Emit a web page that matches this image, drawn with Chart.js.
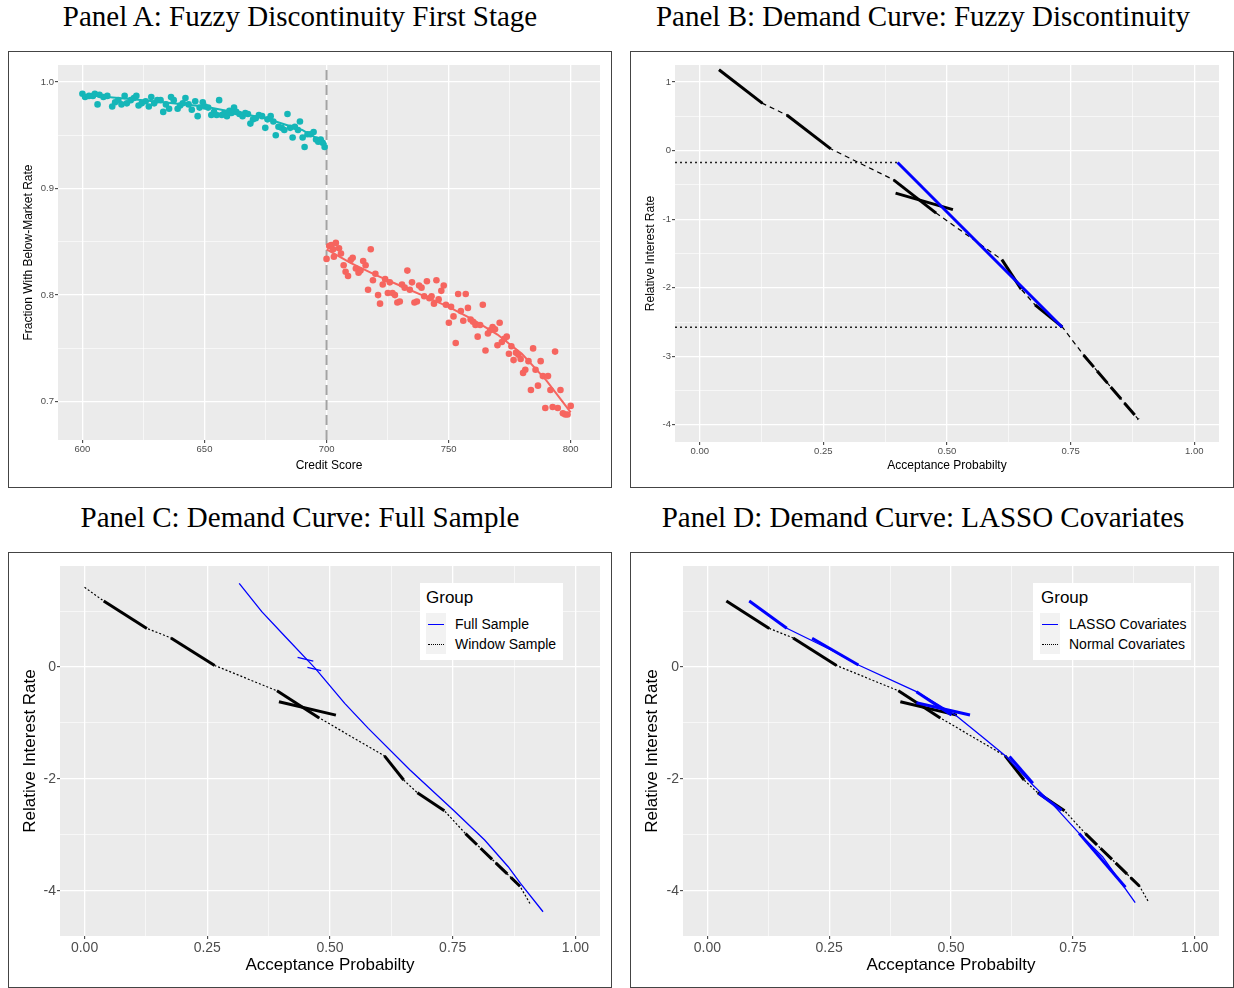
<!DOCTYPE html>
<html><head><meta charset="utf-8">
<script src="https://cdn.jsdelivr.net/npm/chart.js@4.4.1/dist/chart.umd.min.js"></script>
<style>
body{margin:0;background:#fff;width:1234px;height:988px;position:relative;overflow:hidden;font-family:"Liberation Sans",Arial,sans-serif;}
.box{position:absolute;border:1px solid #444;box-sizing:border-box;}
.box canvas{position:absolute;left:0;top:0;}
.title{position:absolute;font-family:"Liberation Serif",serif;font-size:29px;line-height:29px;white-space:nowrap;transform:translateX(-50%);color:#000;}
.legend{position:absolute;background:#fff;color:#000;}
.legend .lt{position:absolute;font-size:17px;line-height:17px;}
.legend .sw{position:absolute;background:#F2F2F2;}
.legend .ln{position:absolute;height:0;}
.legend .lab{position:absolute;font-size:14px;line-height:14px;white-space:nowrap;}
</style></head>
<body>
<div class="title" style="left:300px;top:2px">Panel A: Fuzzy Discontinuity First Stage</div>
<div class="title" style="left:923px;top:2px">Panel B: Demand Curve: Fuzzy Discontinuity</div>
<div class="title" style="left:300px;top:503px">Panel C: Demand Curve: Full Sample</div>
<div class="title" style="left:923px;top:503px">Panel D: Demand Curve: LASSO Covariates</div>

<div class="box" style="left:8px;top:51px;width:604px;height:437px"><canvas id="cA" width="602" height="435"></canvas></div>
<div class="box" style="left:630px;top:51px;width:604px;height:437px"><canvas id="cB" width="602" height="435"></canvas></div>
<div class="box" style="left:8px;top:552px;width:604px;height:436px"><canvas id="cC" width="602" height="434"></canvas>
  <div class="legend" style="left:411px;top:30px;width:143px;height:77px">
    <div class="lt" style="left:6px;top:6px">Group</div>
    <div class="sw" style="left:6px;top:30px;width:20px;height:41px"></div>
    <div class="ln" style="left:8px;top:41px;width:16px;border-top:1.5px solid #0000FF"></div>
    <div class="ln" style="left:8px;top:61px;width:16px;border-top:1.5px dotted #000"></div>
    <div class="lab" style="left:35px;top:34px">Full Sample</div>
    <div class="lab" style="left:35px;top:54px">Window Sample</div>
  </div>
</div>
<div class="box" style="left:630px;top:552px;width:604px;height:436px"><canvas id="cD" width="602" height="434"></canvas>
  <div class="legend" style="left:402px;top:30px;width:158px;height:77px">
    <div class="lt" style="left:8px;top:6px">Group</div>
    <div class="sw" style="left:7px;top:30px;width:20px;height:41px"></div>
    <div class="ln" style="left:9px;top:41px;width:16px;border-top:1.5px solid #0000FF"></div>
    <div class="ln" style="left:9px;top:61px;width:16px;border-top:1.5px dotted #000"></div>
    <div class="lab" style="left:36px;top:34px">LASSO Covariates</div>
    <div class="lab" style="left:36px;top:54px">Normal Covariates</div>
  </div>
</div>

<script>
// ---------------- DATA ----------------
// Panel A: binned credit scores and fraction with below-market rate
const leftScores = [600,601.1,602.7,604.3,605.1,606.2,607,608.6,610.2,612.2,
  613.4,614.7,616,617.3,618.2,619.8,621.1,622.1,623,624.3,
  625.9,627.2,628.2,629.4,630.7,632,633.1,634.2,635.5,636.3,
  637.4,639,640,641.1,642.2,643.5,644.8,646.2,647.2,648,
  649.3,650.2,651.5,652.8,653.9,655,656,657.1,658.2,659.2,
  660.2,661.1,662.1,663,664.3,665.6,666.7,667.8,668.8,669.9,
  671,672.3,673.6,674.9,675.8,677.1,678.2,679.2,680.3,681.6,
  682.7,684,685.1,686.1,687,688.3,689.1,690.2,691,692.2,
  693.4,694.7,695.7,696.6,697.6,698.4,699.2];
const leftShares = [0.989,0.986,0.987,0.987,0.989,0.979,0.988,0.986,0.987,0.977,
  0.981,0.983,0.979,0.987,0.980,0.983,0.985,0.987,0.978,0.980,
  0.982,0.977,0.986,0.980,0.983,0.983,0.972,0.979,0.975,0.986,
  0.983,0.975,0.978,0.980,0.985,0.979,0.974,0.982,0.968,0.976,
  0.981,0.977,0.976,0.969,0.972,0.969,0.983,0.969,0.971,0.968,
  0.973,0.971,0.976,0.972,0.970,0.968,0.971,0.970,0.961,0.965,
  0.966,0.969,0.968,0.957,0.965,0.968,0.963,0.950,0.958,0.957,
  0.955,0.970,0.957,0.948,0.958,0.955,0.963,0.948,0.939,0.951,
  0.951,0.953,0.946,0.944,0.946,0.943,0.939];
const rightScores = [700,701.1,701.9,702.7,703.8,703,705.1,705.9,707,707.8,
  708.8,709.9,710.7,712,713.1,713.9,715,716,717,718.1,
  719,720,721.1,721.9,723,724,725.1,725.9,727,728,
  729,730,730.9,732,733.1,734.1,735,736,737,737.9,
  738.9,740,741.1,742.1,743,744,745,745.9,747,748,
  748.9,750.1,751,752,752.9,753.9,755,756,757,757.9,
  759,760,761,761.9,762.9,764,765.1,766.1,767,768,
  769,770,770.9,771.8,772.8,773.8,774.7,775.7,776.6,777.6,
  778.6,779.5,780.5,781.4,782.7,783.7,784.6,785.6,786.6,787.7,
  788.6,789.6,790.7,791.7,792.6,793.6,794.7,795.8,796.8,797.8,
  798.7,800];
const rightShares = [0.834,0.846,0.847,0.843,0.849,0.836,0.844,0.839,0.828,0.822,
  0.818,0.833,0.835,0.825,0.821,0.823,0.832,0.828,0.805,0.843,
  0.814,0.820,0.800,0.792,0.810,0.815,0.802,0.812,0.802,0.800,
  0.793,0.794,0.810,0.807,0.823,0.805,0.812,0.793,0.794,0.809,
  0.807,0.799,0.813,0.797,0.799,0.792,0.814,0.796,0.804,0.809,
  0.791,0.774,0.789,0.780,0.755,0.801,0.785,0.776,0.801,0.788,
  0.777,0.775,0.772,0.761,0.772,0.791,0.748,0.764,0.767,0.770,
  0.768,0.753,0.774,0.756,0.759,0.761,0.745,0.752,0.739,0.746,
  0.744,0.740,0.727,0.730,0.738,0.711,0.750,0.730,0.715,0.738,
  0.724,0.694,0.724,0.711,0.695,0.747,0.694,0.711,0.689,0.688,
  0.688,0.696];
const leftFit  = [[600,0.988],[625,0.983],[650,0.977],[675,0.966],[690,0.955],[700,0.942]];
const rightFit = [[700,0.843],[710,0.830],[720,0.819],[730,0.809],[740,0.799],[750,0.789],[760,0.777],[770,0.763],[780,0.745],[790,0.720],[800,0.690]];
const cutoffScore = 700;

// Tick values / labels
const scoreMajors = [600,650,700,750,800], scoreLabels = ['600','650','700','750','800'], scoreMinors = [625,675,725,775];
const shareMajors = [0.7,0.8,0.9,1.0], shareLabels = ['0.7','0.8','0.9','1.0'], shareMinors = [0.75,0.85,0.95];
const probMajors = [0,0.25,0.5,0.75,1], probLabels = ['0.00','0.25','0.50','0.75','1.00'], probMinors = [0.125,0.375,0.625,0.875];
const rateBMajors = [-4,-3,-2,-1,0,1], rateBLabels = ['-4','-3','-2','-1','0','1'], rateBMinors = [-3.5,-2.5,-1.5,-0.5,0.5];
const rateCDMajors = [-4,-2,0], rateCDLabels = ['-4','-2','0'], rateCDMinors = [-3,-1,1];

// Demand-curve pieces (acceptance probability, relative interest rate)
const windowThick = [
  [[0.039,1.18],[0.127,0.69]],
  [[0.176,0.52],[0.265,0.027]],
  [[0.392,-0.425],[0.478,-0.91]],
  [[0.396,-0.62],[0.512,-0.86]],
  [[0.611,-1.59],[0.650,-2.02]],
  [[0.678,-2.25],[0.733,-2.57]]
];
const windowTail = [[0.776,-2.98],[0.887,-3.92]];
const windowPath = [[0.039,1.18],[0.127,0.69],[0.176,0.52],[0.265,0.027],[0.392,-0.425],[0.478,-0.91],[0.611,-1.59],[0.650,-2.02],[0.678,-2.25],[0.733,-2.57],[0.776,-2.98],[0.887,-3.92]];
const fuzzyBlue = [[0.40,-0.172],[0.733,-2.575]];
const fuzzyLevelsY = [-0.172,-2.575];
const fuzzyLevelsX = [0.40,0.733];
const windowCurveC = [[0,1.425],[0.039,1.18],[0.127,0.69],[0.176,0.52],[0.265,0.027],[0.392,-0.425],[0.478,-0.91],[0.611,-1.59],[0.650,-2.02],[0.678,-2.25],[0.733,-2.57],[0.776,-2.98],[0.887,-3.92],[0.908,-4.24]];
const fullSampleCurve = [[0.315,1.496],[0.361,0.990],[0.410,0.531],[0.470,-0.024],[0.530,-0.650],[0.578,-1.097],[0.663,-1.842],[0.751,-2.557],[0.815,-3.094],[0.863,-3.571],[0.888,-3.869],[0.934,-4.376]];
const fullSampleTicks = [[[0.434,0.173],[0.466,0.107]],[[0.454,-0.006],[0.482,-0.066]]];
const normalCurveD = [[0.127,0.69],[0.176,0.52],[0.265,0.027],[0.392,-0.425],[0.478,-0.91],[0.611,-1.59],[0.650,-2.02],[0.678,-2.25],[0.733,-2.57],[0.776,-2.98],[0.887,-3.92],[0.906,-4.21]];
const lassoCurve = [[0.086,1.18],[0.163,0.692],[0.254,0.304],[0.310,0.036],[0.429,-0.441],[0.509,-0.858],[0.564,-1.246],[0.612,-1.592],[0.668,-2.110],[0.707,-2.438],[0.763,-2.975],[0.811,-3.392],[0.878,-4.215]];
const lassoThick = [
  [[0.086,1.18],[0.163,0.692]],
  [[0.215,0.513],[0.310,0.036]],
  [[0.429,-0.441],[0.501,-0.858]],
  [[0.429,-0.638],[0.539,-0.858]],
  [[0.620,-1.60],[0.668,-2.08]],
  [[0.680,-2.26],[0.727,-2.56]],
  [[0.763,-2.975],[0.858,-3.94]]
];

// ---------------- DRAWING ----------------
const TEAL = '#15B6B8', RED = '#F6655F', BLUE = '#0000FF';
const bgPlugin = {id:'bg', beforeDraw(chart){
  const {ctx, chartArea:a} = chart;
  ctx.save(); ctx.fillStyle = '#EBEBEB'; ctx.fillRect(a.left, a.top, a.right-a.left, a.bottom-a.top); ctx.restore();
}};

function axis(o){
  const all = o.majors.concat(o.minors).sort((a,b)=>a-b);
  const isMaj = c => c.tick && o.majors.includes(c.tick.value);
  return {
    type:'linear', position:o.pos, min:o.min, max:o.max,
    afterBuildTicks: s => { s.ticks = all.map(v => ({value:v})); },
    afterFit: s => { if (o.pos === 'bottom') s.height = o.size; else s.width = o.size; },
    grid:{ color:'#FFFFFF', lineWidth: c => isMaj(c) ? 1.3 : 0.6, tickColor: c => isMaj(c) ? '#333333' : 'rgba(0,0,0,0)', tickWidth:1, tickLength:3, drawTicks:true },
    border:{ display:false },
    ticks:{ autoSkip:false, maxRotation:0, minRotation:0, padding:o.tickPad, color:'#4D4D4D',
      font:{family:'Liberation Sans', size:o.tickSize},
      callback: v => { const i = o.majors.indexOf(v); return i >= 0 ? o.labels[i] : ''; } },
    title:{ display:true, text:o.title, color:'#000', font:{family:'Liberation Sans', size:o.titleSize},
      padding: o.pos === 'bottom' ? {top:0, bottom:o.titlePad} : {top:o.titlePad, bottom:0} }
  };
}
function line(points, color, width, dash){
  return {data: points.map(p => ({x:p[0], y:p[1]})), showLine:true, borderColor:color, borderWidth:width,
    borderDash: dash || [], pointRadius:0, pointHoverRadius:0, fill:false, tension:0, borderCapStyle:'butt'};
}
function dots(xs, ys, color, r){
  return {data: xs.map((x,i) => ({x:x, y:ys[i]})), showLine:false, pointRadius:r, pointHoverRadius:r,
    pointBackgroundColor:color, pointBorderColor:color, pointBorderWidth:0};
}
function make(id, layers, xAxis, yAxis, pad){
  layers.forEach((d,i) => { d.order = layers.length - i; });
  return new Chart(document.getElementById(id), {
    type:'scatter',
    data:{datasets:layers},
    options:{ responsive:false, animation:false, events:[],
      layout:{padding:{top:pad.top, right:pad.right, left:0, bottom:0}},
      plugins:{legend:{display:false}, tooltip:{enabled:false}},
      scales:{x:xAxis, y:yAxis} },
    plugins:[bgPlugin]
  });
}

// Panel A
make('cA', [
  line([[cutoffScore,0.664],[cutoffScore,1.016]], '#A3A3A3', 2, [10,5]),
  dots(leftScores, leftShares, TEAL, 3.3),
  dots(rightScores, rightShares, RED, 3.3),
  line(leftFit, TEAL, 2),
  line(rightFit, RED, 2)
],
  axis({pos:'bottom', min:590, max:812, majors:scoreMajors, minors:scoreMinors, labels:scoreLabels, size:47, tickPad:1, tickSize:9.5, title:'Credit Score', titleSize:12, titlePad:14}),
  axis({pos:'left', min:0.664, max:1.016, majors:shareMajors, minors:shareMinors, labels:shareLabels, size:49, tickPad:1, tickSize:9.5, title:'Fraction With Below-Market Rate', titleSize:12, titlePad:12}),
  {top:13, right:11});

// Panel B
const levelLines = fuzzyLevelsY.map((y,i) => line([[-0.05,y],[fuzzyLevelsX[i],y]], '#222', 1.4, [2,3]));
make('cB', [
  ...levelLines,
  line(windowPath, '#000', 1.2, [5,4]),
  ...windowThick.map(s => line(s, '#000', 3)),
  line(windowTail, '#000', 3, [16,5]),
  line(fuzzyBlue, BLUE, 3)
],
  axis({pos:'bottom', min:-0.05, max:1.05, majors:probMajors, minors:probMinors, labels:probLabels, size:45, tickPad:1, tickSize:9.5, title:'Acceptance Probabilty', titleSize:12, titlePad:14}),
  axis({pos:'left', min:-4.25, max:1.25, majors:rateBMajors, minors:rateBMinors, labels:rateBLabels, size:44, tickPad:1, tickSize:9.5, title:'Relative Interest Rate', titleSize:12, titlePad:12}),
  {top:13, right:14});

// Panel C
make('cC', [
  line(windowCurveC, '#000', 1.2, [2,2]),
  ...windowThick.map(s => line(s, '#000', 3)),
  line(windowTail, '#000', 3, [16,5]),
  line(fullSampleCurve, BLUE, 1.3),
  ...fullSampleTicks.map(s => line(s, BLUE, 1.3))
],
  axis({pos:'bottom', min:-0.05, max:1.05, majors:probMajors, minors:probMinors, labels:probLabels, size:51, tickPad:1, tickSize:14, title:'Acceptance Probabilty', titleSize:17, titlePad:11}),
  axis({pos:'left', min:-4.81, max:1.806, majors:rateCDMajors, minors:rateCDMinors, labels:rateCDLabels, size:51, tickPad:1, tickSize:14, title:'Relative Interest Rate', titleSize:17, titlePad:11}),
  {top:13, right:11});

// Panel D
make('cD', [
  line(normalCurveD, '#000', 1.2, [2,2]),
  ...windowThick.map(s => line(s, '#000', 3)),
  line(windowTail, '#000', 3, [16,5]),
  line(lassoCurve, BLUE, 1.3),
  ...lassoThick.map(s => line(s, BLUE, 3))
],
  axis({pos:'bottom', min:-0.05, max:1.05, majors:probMajors, minors:probMinors, labels:probLabels, size:51, tickPad:1, tickSize:14, title:'Acceptance Probabilty', titleSize:17, titlePad:11}),
  axis({pos:'left', min:-4.81, max:1.806, majors:rateCDMajors, minors:rateCDMinors, labels:rateCDLabels, size:52, tickPad:1, tickSize:14, title:'Relative Interest Rate', titleSize:17, titlePad:11}),
  {top:13, right:14});
</script>
</body></html>
